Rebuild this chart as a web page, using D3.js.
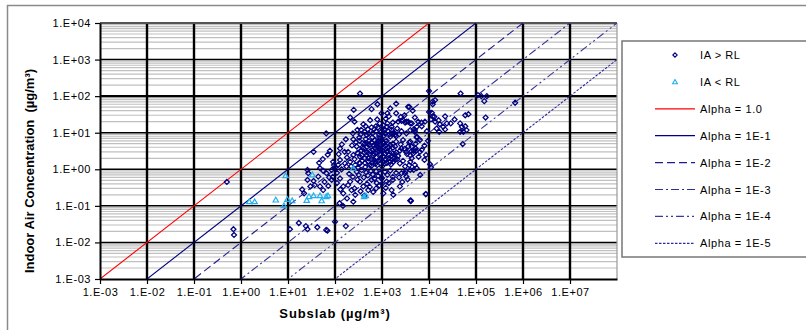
<!DOCTYPE html>
<html>
<head>
<meta charset="utf-8">
<script src="https://cdn.jsdelivr.net/npm/d3@7"></script>
<style>
  html, body { margin: 0; padding: 0; background: #fff; }
  svg { display: block; font-family: "Liberation Sans", Arial, sans-serif; }
</style>
</head>
<body>
<svg id="chart" width="806" height="330"></svg>
<script>
// Subslab vs indoor air concentration (µg/m³), attenuation factor reference lines
const xTicks = [1e-3, 1e-2, 1e-1, 1e0, 1e1, 1e2, 1e3, 1e4, 1e5, 1e6, 1e7];
const xTickLabels = ["1.E-03","1.E-02","1.E-01","1.E+00","1.E+01","1.E+02","1.E+03","1.E+04","1.E+05","1.E+06","1.E+07"];
const yTicks = [1e-3, 1e-2, 1e-1, 1e0, 1e1, 1e2, 1e3, 1e4];
const yTickLabels = ["1.E-03","1.E-02","1.E-01","1.E+00","1.E+01","1.E+02","1.E+03","1.E+04"];

// Alpha = indoor / subslab
const alphaValues = [1.0, 1e-1, 1e-2, 1e-3, 1e-4, 1e-5];
const alphaLabels = ["Alpha = 1.0", "Alpha = 1E-1", "Alpha = 1E-2", "Alpha = 1E-3", "Alpha = 1E-4", "Alpha = 1E-5"];

// [subslab, indoor air] pairs, indoor air above reporting limit
const iaAboveRL = [
  [0.5,0.45],[0.69,0.023],[0.71,0.016],
  [11,0.023],[17,0.034],[24,0.028],[26,0.023],[42,0.026],[65,0.022],[69,0.021],[100,0.037],[170,0.028],
  [125,0.118],[148,0.1],[4.1e3,0.135],[8.5e3,0.21],[1.74e3,0.2],
  [340,118],[3.6e3,51],[980,34],[1.3e3,34],[2e3,34],[210,26],[260,20],[790,23],[450,15],[500,12.3],[740,15],
  [1.07e3,16],[1.26e3,14.5],[1.6e3,14.5],[1.7e3,19],[2.2e3,20],[2.6e3,21],[3.1e3,19],[3.6e3,20],[4.3e3,18],
  [5.5e3,14.5],[5e3,11.8],[4e3,11.8],[3.3e3,9.6],
  [65,9.6],[240,9.6],[170,6.6],[245,6.6],[330,7.4],[470,8.7],[630,9.6],[870,8.7],[1.15e3,9.6],[1.5e3,7.8],
  [1.9e3,8.7],[2.8e3,6.3],[3.8e3,5.4],[5.5e3,7.4],[5.2e3,3.7],
  [35,3],[78,3.2],[128,3.7],[190,3],[290,4.2],[400,3.7],[550,4.6],[770,4.2],[1.07e3,5.1],[1.5e3,4.6],[2e3,5.7],
  [2.6e3,3.7],[3.3e3,3],[4.3e3,4.2],[1.7e3,2.7],[1.26e3,3],[900,3.4],[660,2.7],[470,2.45],[340,2.2],[245,2.45],
  [180,2.1],[128,1.8],
  [46,1.5],[91,1.6],[26,0.96],[27,0.78],[48,1.07],[56,0.91],[66,0.78],[85,0.96],[100,1.13],[117,1.32],[138,1.0],
  [163,1.45],[210,1.6],[270,1.32],[340,1.45],[435,1.5],[550,1.32],[710,1.6],[910,1.8],[1.15e3,1.45],[1.5e3,1.6],
  [1.9e3,1.8],[2.4e3,1.45],[3.1e3,1.2],[4e3,1.6],[5e3,1.32],[4.7e3,0.96],
  [20,0.28],[22,0.22],[30,0.34],[37,0.37],[48,0.34],[56,0.27],[72,0.35],[85,0.51],[110,0.42],[128,0.56],[150,0.34],
  [190,0.37],[225,0.27],[270,0.2],[245,0.13],[340,0.46],[400,0.34],[510,0.27],[600,0.51],[770,0.42],[980,0.56],
  [1.26e3,0.46],[1.7e3,0.51],[1.6e3,0.27],[1.07e3,0.22],[2.4e3,0.34],[4e3,0.14],[2.6e3,0.78],[3.3e3,0.63],
  [26,0.51],[35,0.48],[44,0.63],
  [1e4,138],[4.7e4,118],[1.1e5,107],[1.3e5,100],[1.7e5,100],[1.5e5,73],[6.8e5,66],[1.2e4,71],[1.35e4,78],[1.2e4,60],
  [3.8e3,51],[1e4,37],[1.15e4,35],[1.2e4,28],[1.1e4,23],[1.3e4,27.5],[5.9e3,20],[6.9e3,19],[8.2e3,20],
  [2.8e3,22],[3.3e3,20],[4e3,18],[1.35e4,20],[1.7e4,17],[2e4,14.5],[2.4e4,18],[2.9e4,18],
  [1.45e4,13],[1.65e4,10.6],[2.2e4,12.3],[4.6e4,18],[5e4,14.5],[5.9e4,15],[5.4e4,10.6],[4.6e4,10.6],[6.3e4,11.8],
  [5.9e4,30],[6.9e4,32],[1.6e5,26],[5.2e4,4.9],
  [4.7e3,12.3],[5e3,10.6],[5.5e3,7.8],[4e3,5.7],[6.4e3,6.3],[3.6e3,4.2],[4.7e3,3.2],[5.3e3,3.2],[6.4e3,3],
  [8.6e3,2.45],[4e3,2.4],[4.3e3,2],[5.5e3,1.07],[4e3,0.96],[3.1e3,0.78],[3.5e3,0.53],[1.05e4,1.37],[1.1e4,1.13],
  [8.6e3,0.21],[4.1e3,0.14],
  [220,1.2],[260,1.9],[300,2.8],[310,1.1],[360,3.3],[380,1.7],[420,2.9],[440,1.15],[480,4.1],[520,2.0],
  [560,3.1],[600,1.25],[650,2.4],[700,3.8],[720,1.4],[760,2.1],[820,4.6],[850,1.7],[900,2.6],[950,3.4],
  [1000,1.2],[1050,2.2],[1100,4.0],[1200,1.9],[1300,3.1],[1400,2.4],[1550,1.35],[1700,3.9],[1800,2.0],[2000,2.9],
  [230,4.5],[280,5.5],[330,6.0],[390,5.2],[450,6.8],[530,5.9],[620,7.5],[700,6.1],[800,5.3],[880,7.0],
  [980,6.4],[1100,8.2],[1250,6.0],[1350,11],[1450,9.0],[1600,12],[1800,10],[2100,13],[2300,9.0],[2600,11],
  [200,0.75],[240,0.62],[290,0.85],[320,0.7],[370,0.95],[410,0.6],[460,0.82],[500,0.68],[580,0.9],[640,0.72],
  [690,0.55],[750,0.88],[830,0.66],[920,0.78],[1000,0.58],[1150,0.85],[1300,0.7],[1500,0.92],[1700,0.62],[2000,0.8],
  [150,0.22],[180,0.16],[210,0.46],[260,0.3],[300,0.52],[350,0.25],[420,0.19],[480,0.4],[550,0.33],[650,0.24],
  [750,0.3],[880,0.36],[1000,0.4],[1200,0.31],[1400,0.42],
  [2200,2.3],[2500,4.8],[2800,1.7],[3000,3.6],[3400,2.6],[3800,1.3],[4200,3.1],[4600,2.7],[5200,5.0],[6000,2.2],
  [7000,3.4],[8000,4.4],[9500,6.0],[2300,0.6],[2700,0.45],[3200,0.88],[6500,0.7],[8000,1.8],
  [1000,13],[1200,24],[1400,28],[900,18],[750,11],[600,14],[560,22],[400,17],[300,12],[350,9],
  [2500,27],[3000,30],[5000,26],[7000,15],[9000,11],[1.6e4,22],[2.2e4,28],[3.5e4,23],
  [55,1.9],[70,2.5],[90,0.62],[120,2.6],[140,4.8],[160,3.0],[175,1.2],[95,1.3],[60,0.45],[75,0.6],[110,0.8],[130,0.28],
  [600,44],[800,60],[1500,46],[2000,62],[250,42],[4500,40],
  [330,1.5],[370,2.4],[430,2.0],[470,3.0],[510,1.6],[540,2.6],[590,1.9],[630,3.4],[680,1.8],[740,2.8],
  [790,1.3],[860,3.0],[930,2.0],[1020,3.3],[1080,1.6],[1180,2.7],[1260,1.5],[1350,2.0],[1450,3.4],[1600,2.3],
  [1750,1.6],[1900,2.6],[2100,1.9],[2400,3.2],
  [380,4.0],[430,5.0],[500,4.9],[600,5.4],[660,4.5],[730,5.0],[850,6.0],[930,4.8],[1050,5.6],[1180,4.4],
  [1300,5.2],[1400,4.0],[1700,5.0],[1900,4.2],
  [360,12],[430,10.5],[520,9.5],[680,12.5],[820,14],[950,10.5],[1150,12],[1300,18],[1600,9.5],[2000,8.0]
];

// [subslab, indoor air] pairs, indoor air below reporting limit
const iaBelowRL = [
  [8.9,0.67],[33,0.71],[1.5,0.13],[1.95,0.13],[5.5,0.145],[8.2,0.102],[9.7,0.15],[12.3,0.138],
  [25,0.142],[28,0.18],[35,0.19],[48,0.19],[52,0.138],[65,0.18],[71,0.19],[245,1.07],[415,0.18],[455,0.19]
];

const svg = d3.select("#chart");
const W = 806, H = 330;
const plot = { left: 100, top: 23, right: 617, bottom: 279 };

const x = d3.scaleLog().domain([1e-3, 1e8]).range([plot.left, plot.right]);
const y = d3.scaleLog().domain([1e-3, 1e4]).range([plot.bottom, plot.top]);

svg.append("rect").attr("width", W).attr("height", H).attr("fill", "#fff");
// chart frame
svg.append("rect").attr("x", 7.5).attr("y", 5.5).attr("width", 820).attr("height", 360)
  .attr("fill", "none").attr("stroke", "#8a8a8a").attr("stroke-width", 1.5);

const defs = svg.append("defs");
defs.append("clipPath").attr("id", "plotClip").append("rect")
  .attr("x", plot.left).attr("y", plot.top)
  .attr("width", plot.right - plot.left).attr("height", plot.bottom - plot.top);

// minor horizontal gridlines
const minorY = [];
yTicks.slice(0, -1).forEach(d => { for (let k = 2; k <= 9; k++) minorY.push(d * k); });
svg.append("g").selectAll("line").data(minorY).join("line")
  .attr("x1", plot.left).attr("x2", plot.right)
  .attr("y1", d => y(d)).attr("y2", d => y(d))
  .attr("stroke", "#c0c0c0").attr("stroke-width", 1.2);

// major gridlines
svg.append("g").selectAll("line").data(yTicks.slice(1, -1)).join("line")
  .attr("x1", plot.left).attr("x2", plot.right)
  .attr("y1", d => y(d)).attr("y2", d => y(d))
  .attr("stroke", "#000").attr("stroke-width", d => d === 1e2 ? 2.2 : 1.5);
svg.append("g").selectAll("line").data(xTicks.slice(1)).join("line")
  .attr("x1", d => x(d)).attr("x2", d => x(d))
  .attr("y1", plot.top).attr("y2", plot.bottom)
  .attr("stroke", "#000").attr("stroke-width", 2.4);

// plot border: top and right
svg.append("line").attr("x1", plot.left).attr("x2", plot.right).attr("y1", plot.top).attr("y2", plot.top)
  .attr("stroke", "#555").attr("stroke-width", 2);
svg.append("line").attr("x1", plot.right).attr("x2", plot.right).attr("y1", plot.top).attr("y2", plot.bottom)
  .attr("stroke", "#999").attr("stroke-width", 1.2);

// alpha reference lines
const lineStyles = [
  { color: "#ff0000", dash: null },
  { color: "#000080", dash: null },
  { color: "#1c1c8e", dash: "8,4" },
  { color: "#2e2e96", dash: "8,3,2,3" },
  { color: "#3a3a9e", dash: "8,3,2,3,2,3" },
  { color: "#2a2aa0", dash: "2.5,1.5" }
];
const lineGen = d3.line().x(d => x(d[0])).y(d => y(d[1]));
const gLines = svg.append("g").attr("clip-path", "url(#plotClip)");
alphaValues.forEach((a, i) => {
  const pts = [1e-3, 1e8].map(s => [s, s * a]);
  gLines.append("path").attr("d", lineGen(pts))
    .attr("fill", "none").attr("stroke", lineStyles[i].color).attr("stroke-width", 1.1)
    .attr("stroke-dasharray", lineStyles[i].dash);
});

// markers
const diamond = (cx, cy, r) => `M${cx},${cy - r}L${cx + r},${cy}L${cx},${cy + r}L${cx - r},${cy}Z`;
const triangle = (cx, cy, r) => `M${cx},${cy - r}L${cx + r},${cy + r * 0.75}L${cx - r},${cy + r * 0.75}Z`;
const gPts = svg.append("g").attr("clip-path", "url(#plotClip)");
gPts.selectAll("path.above").data(iaAboveRL).join("path").attr("class", "above")
  .attr("d", d => diamond(x(d[0]), y(d[1]), 2.5))
  .attr("fill", "none").attr("stroke", "#000080").attr("stroke-width", 1.25);
gPts.selectAll("path.below").data(iaBelowRL).join("path").attr("class", "below")
  .attr("d", d => triangle(x(d[0]), y(d[1]), 2.7))
  .attr("fill", "none").attr("stroke", "#20b0f0").attr("stroke-width", 1.2);

// axes
const xAxis = svg.append("g").attr("transform", `translate(0,${plot.bottom})`)
  .call(d3.axisBottom(x).tickValues(xTicks).tickFormat((d, i) => xTickLabels[i]).tickSize(5).tickPadding(4).tickSizeOuter(0));
const yAxis = svg.append("g").attr("transform", `translate(${plot.left},0)`)
  .call(d3.axisLeft(y).tickValues(yTicks).tickFormat((d, i) => yTickLabels[i]).tickSize(5).tickPadding(4).tickSizeOuter(0));
[xAxis, yAxis].forEach(g => {
  g.select(".domain").attr("stroke", "#000").attr("stroke-width", 2);
  g.selectAll(".tick line").attr("stroke", "#000").attr("stroke-width", 1.2);
  g.selectAll(".tick text").attr("fill", "#000").style("font-size", "11px").style("letter-spacing", "0.55px")
    .style("font-family", "'Liberation Sans', Arial, sans-serif");
});

// axis titles
svg.append("text").attr("x", 335).attr("y", 318).attr("text-anchor", "middle")
  .style("font-size", "13px").style("font-weight", "bold").style("letter-spacing", "0.9px").text("Subslab (µg/m³)");
svg.append("text").attr("transform", "translate(34,171) rotate(-90)").attr("text-anchor", "middle")
  .style("font-size", "13px").style("font-weight", "bold").attr("xml:space", "preserve")
  .text("Indoor Air Concentration  (µg/m³)");

// legend
const lg = svg.append("g");
lg.append("rect").attr("x", 622).attr("y", 41).attr("width", 200).attr("height", 216)
  .attr("fill", "#fff").attr("stroke", "#777").attr("stroke-width", 1.5);
const legendItems = [
  { label: "IA > RL", type: "above" },
  { label: "IA < RL", type: "below" },
  ...alphaLabels.map((l, i) => ({ label: l, type: "line", idx: i }))
];
legendItems.forEach((it, i) => {
  const cy = 55 + i * 26.9;
  if (it.type === "above") {
    lg.append("path").attr("d", diamond(675, cy, 2.2)).attr("fill", "none").attr("stroke", "#000080").attr("stroke-width", 1.1);
  } else if (it.type === "below") {
    lg.append("path").attr("d", triangle(675, cy, 2.4)).attr("fill", "none").attr("stroke", "#20b0f0").attr("stroke-width", 1.1);
  } else {
    const st = lineStyles[it.idx];
    lg.append("line").attr("x1", 655).attr("x2", 695).attr("y1", cy).attr("y2", cy)
      .attr("stroke", st.color).attr("stroke-width", 1.2).attr("stroke-dasharray", st.dash);
  }
  lg.append("text").attr("x", 700).attr("y", cy + 4).style("font-size", "11px").style("letter-spacing", "0.6px").text(it.label);
});
</script>
</body>
</html>
